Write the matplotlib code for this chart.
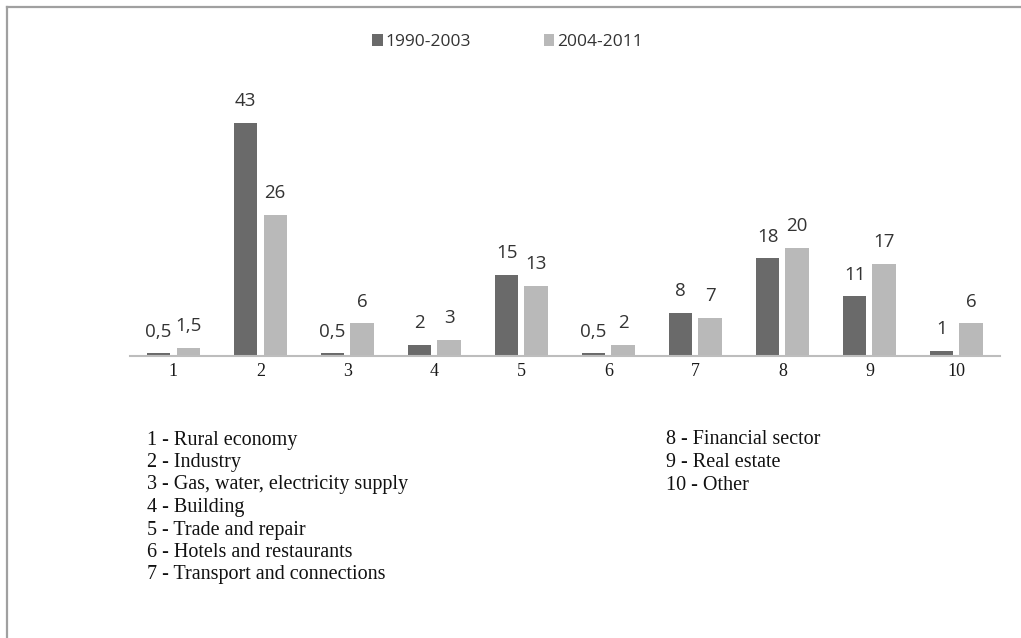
import numpy as np
import matplotlib.pyplot as plt
from matplotlib.lines import Line2D

# Sector codes and shares (%) for two periods
codes = ['1', '2', '3', '4', '5', '6', '7', '8', '9', '10']
period1 = [0.5, 43, 0.5, 2, 15, 0.5, 8, 18, 11, 1]
period2 = [1.5, 26, 6, 3, 13, 2, 7, 20, 17, 6]
labels1 = ['0,5', '43', '0,5', '2', '15', '0,5', '8', '18', '11', '1']
labels2 = ['1,5', '26', '6', '3', '13', '2', '7', '20', '17', '6']
series_names = ['1990-2003', '2004-2011']
sectors_left = ['1 - Rural economy', '2 - Industry', '3 - Gas, water, electricity supply',
                '4 - Building', '5 - Trade and repair', '6 - Hotels and restaurants',
                '7 - Transport and connections']
sectors_right = ['8 - Financial sector', '9 - Real estate', '10 - Other']

dark = '#6a6a6a'
light = '#b9b9b9'

fig = plt.figure(figsize=(10.21, 6.38), dpi=100)
ax = fig.add_axes([0.1273, 0.442, 0.852, 0.4248])

x = np.arange(len(codes))
w = 0.27
gap = 0.035
b1 = ax.bar(x - w / 2 - gap, period1, w, color=dark, label=series_names[0])
b2 = ax.bar(x + w / 2 + gap, period2, w, color=light, label=series_names[1])

for bars, labs in [(b1, labels1), (b2, labels2)]:
    for rect, lab in zip(bars, labs):
        ax.text(rect.get_x() + rect.get_width() / 2, rect.get_height() + 4.0, lab,
                ha='center', va='center', fontsize=13.5, color='#333333',
                family='Open Sans')

ax.set_xlim(-0.5, len(codes) - 0.5)
ax.set_ylim(0, 50)
ax.set_xticks(x)
ax.set_xticklabels(codes, family='Liberation Serif', fontsize=13, color='#1a1a1a')
ax.tick_params(axis='x', length=0, pad=5)
ax.set_yticks([])
for s in ['top', 'right', 'left']:
    ax.spines[s].set_visible(False)
ax.spines['bottom'].set_color('#bdbdbd')
ax.spines['bottom'].set_linewidth(1.5)

leg = fig.legend(handles=[b1, b2], labels=series_names, loc='center',
                 bbox_to_anchor=(0.497, 0.934), ncol=2, frameon=False,
                 handlelength=0.6, handleheight=0.6, handletextpad=0.15,
                 columnspacing=4.2, prop={'family': 'Open Sans', 'size': 12.5})
for t in leg.get_texts():
    t.set_color('#333333')

# sector key below the chart
for i, s in enumerate(sectors_left):
    fig.text(0.144, 1 - (440 + 22.5 * i) / 638, s, va='center', ha='left',
             family='Liberation Serif', fontsize=14.5, color='#111111')
for i, s in enumerate(sectors_right):
    fig.text(0.652, 1 - (440 + 22.5 * i) / 638, s, va='center', ha='left',
             family='Liberation Serif', fontsize=14.5, color='#111111')

# page frame on top and left
fig.add_artist(Line2D([7 / 1021, 1], [1 - 7 / 638, 1 - 7 / 638],
                      transform=fig.transFigure, color='#a0a0a0', lw=1.6))
fig.add_artist(Line2D([7 / 1021, 7 / 1021], [0, 1 - 7 / 638],
                      transform=fig.transFigure, color='#a0a0a0', lw=1.6))

fig.savefig('out.png', dpi=100)
